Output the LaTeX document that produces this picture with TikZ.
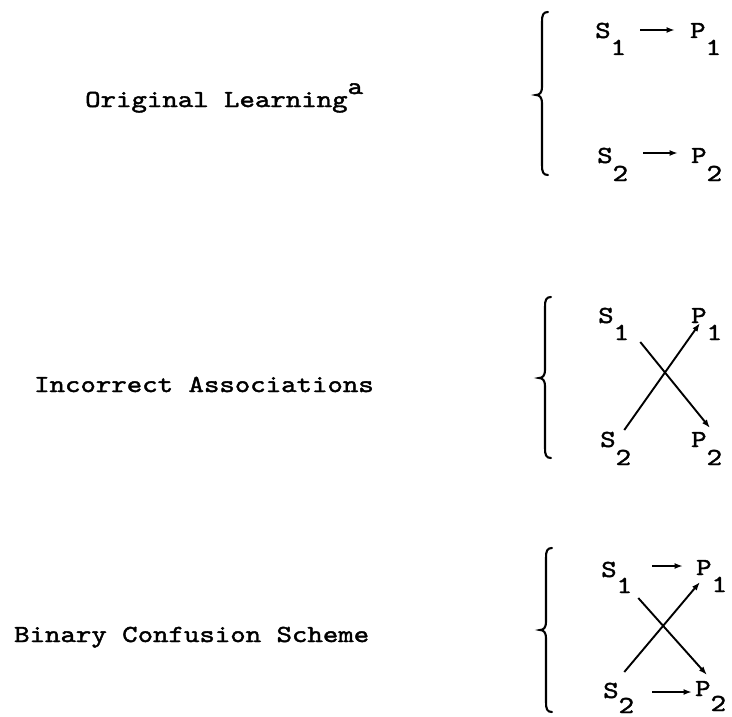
\documentclass[tikz,border=0pt]{standalone}
\usepackage{fontspec}
\newfontfamily\twr[FakeStretch=1.2,FakeBold=1.7]{lmmono10-regular.otf}
\usetikzlibrary{calc,arrows.meta}
\newcommand\drawbrace[4]{%
  \draw[bracesty] (#1+6,#2) .. controls (#1+1,#2) and (#1,#2+3) .. (#1,#2+10)
    -- (#1,#3-8) .. controls (#1,#3-3) and (#1-2,#3) .. (#1-6,#3)
    .. controls (#1-2,#3) and (#1,#3+3) .. (#1,#3+8)
    -- (#1,#4-10) .. controls (#1,#4-3) and (#1+1,#4) .. (#1+6,#4);}
\begin{document}
\begin{tikzpicture}[x=1pt,y=-1pt,
  txt/.style={inner sep=0pt,anchor=base west,font=\twr\fontsize{24.5}{28}\selectfont},
  lnk/.style={line width=1.9pt,-{Latex[length=8.5pt,width=6pt]}},
  bracesty/.style={line width=2.1pt,line cap=round}]
\useasboundingbox[fill=white] (0,0) rectangle (732,717);

% left labels
\node[txt] (ol) at (85,107) {Original Learning\raisebox{13pt}{a}};
\node[txt] (ia) at (34,392) {Incorrect Associations};
\node[txt] (bc) at (14,642) {Binary Confusion Scheme};

% braces
\drawbrace{542}{12}{95}{175}
\drawbrace{545}{297}{378}{458}
\drawbrace{546}{548}{630}{712}

% group 1
\node[txt] (s11) at (595,38) {S\raisebox{-17pt}{1}};
\node[txt] (p11) at (690,38) {P\raisebox{-17pt}{1}};
\node[txt] (s12) at (597,163) {S\raisebox{-18pt}{2}};
\node[txt] (p12) at (691,163) {P\raisebox{-18pt}{2}};
\draw[lnk] ($(s11.base east)+(14,-8)$) -- ($(p11.base west)+(-15,-8)$);
\draw[lnk] ($(s12.base east)+(15,-10)$) -- ($(p12.base west)+(-13,-10)$);

% group 2
\node[txt] (s21) at (598,323) {S\raisebox{-17pt}{1}};
\node[txt] (p21) at (691,323) {P\raisebox{-17pt}{1}};
\node[txt] (s22) at (600,447) {S\raisebox{-18pt}{2}};
\node[txt] (p22) at (691,447) {P\raisebox{-18pt}{2}};
\draw[lnk] ($(s21.base east)+(11,19)$) -- ($(p22.base west)+(19,-19)$);
\draw[lnk] ($(s22.base east)+(-7,-17)$) -- ($(p21.base west)+(9,0)$);

% group 3
\node[txt] (s31) at (601,577) {S\raisebox{-16pt}{1}};
\node[txt] (p31) at (696,575) {P\raisebox{-17pt}{1}};
\node[txt] (s32) at (603,698) {S\raisebox{-15pt}{2}};
\node[txt] (p32) at (695,696) {P\raisebox{-15pt}{2}};
\draw[lnk] ($(s31.base east)+(20,-11)$) -- ($(p31.base west)+(-13,-9)$);
\draw[lnk] ($(s32.base east)+(18,-6)$) -- ($(p32.base west)+(-3,-4)$);
\draw[lnk] ($(s31.base east)+(6,21)$) -- ($(p32.base west)+(12,-21)$);
\draw[lnk] ($(s32.base east)+(-10,-26)$) -- ($(p31.base west)+(4,7)$);
\end{tikzpicture}
\end{document}
